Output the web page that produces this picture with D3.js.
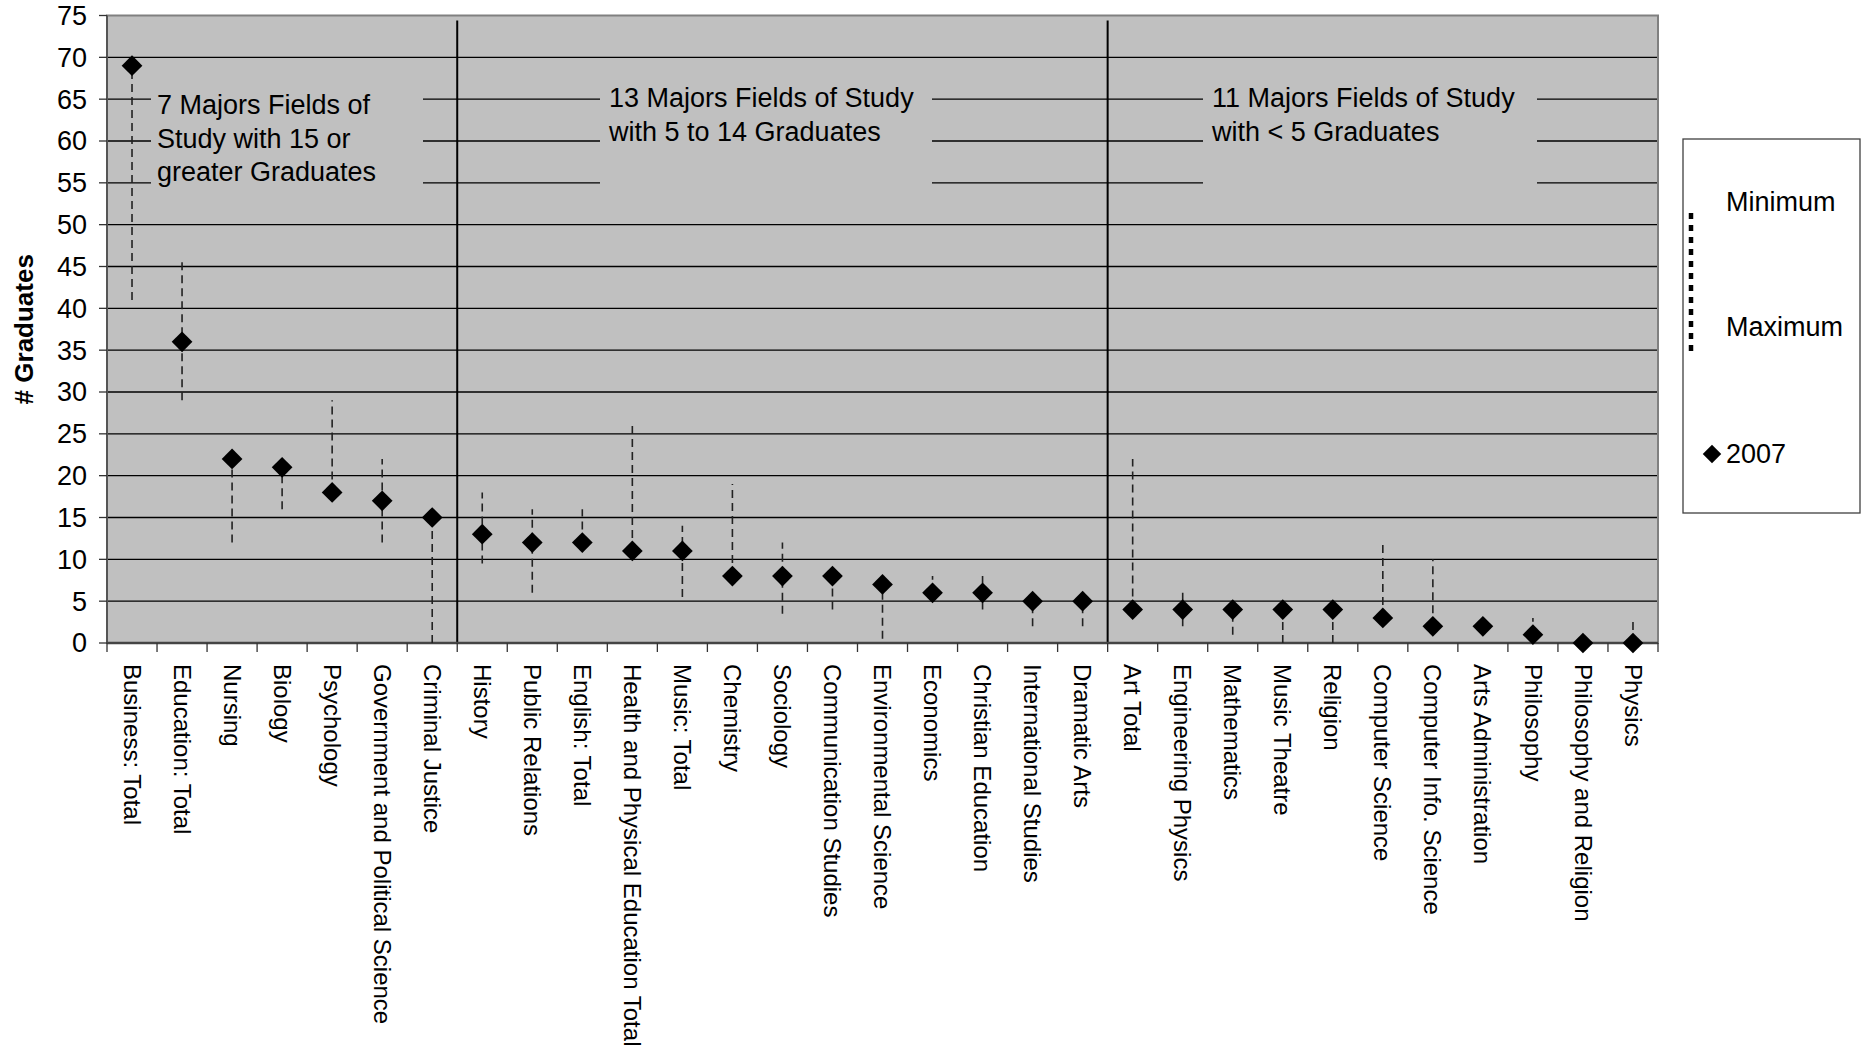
<!DOCTYPE html>
<head>
<meta charset="utf-8">
<script src="https://d3js.org/d3.v7.min.js"></script>
<style>
  body { margin: 0; background: #fff; }
  text { font-family: "Liberation Sans", Arial, sans-serif; fill: #000; }
</style>
</head>
<body>
<div id="chart"></div>
<script>

// categories (majors), sorted by 2007 graduates
var categories = [
  "Business: Total", "Education: Total", "Nursing", "Biology", "Psychology",
  "Government and Political Science", "Criminal Justice",
  "History", "Public Relations", "English: Total", "Health and Physical Education Total",
  "Music: Total", "Chemistry", "Sociology", "Communication Studies", "Environmental Science",
  "Economics", "Christian Education", "International Studies", "Dramatic Arts",
  "Art Total", "Engineering Physics", "Mathematics", "Music Theatre", "Religion",
  "Computer Science", "Computer Info. Science", "Arts Administration", "Philosophy",
  "Philosophy and Religion", "Physics"
];

// graduates in 2007
var grads2007 = [69, 36, 22, 21, 18, 17, 15, 13, 12, 12, 11, 11, 8, 8, 8, 7, 6, 6, 5, 5,
                 4, 4, 4, 4, 4, 3, 2, 2, 1, 0, 0];

// range of earlier years
var minimum = [41, 29, 12, 16, 18, 12, 0, 9.5, 6, 12, 11, 5.5, 8, 3.5, 4, 0.5, 6, 4, 2, 2,
               4, 2, 1, 0, 0, 3, 2, 2, 1, 0, 0];
var maximum = [69, 46, 22, 21, 29, 22, 15, 18, 16, 16, 26, 14, 19, 12, 8, 7, 8, 8, 5, 5,
               22, 6, 4, 4, 4, 12, 10, 2, 3, 0, 3];

// group sizes and their captions
var groupSizes = [7, 13, 11];
var groupLabels = [
  ["7 Majors Fields of", "Study with 15 or", "greater Graduates"],
  ["13 Majors Fields of Study", "with 5 to 14 Graduates"],
  ["11 Majors Fields of Study", "with < 5 Graduates"]
];

var yTicks = d3.range(0, 80, 5);

var width = 1868, height = 1055;
var plotLeft = 107, plotRight = 1658, plotTop = 15.5, plotBottom = 643;

var svg = d3.select("#chart").append("svg")
    .attr("width", width)
    .attr("height", height);

var x = d3.scaleBand().domain(categories).range([plotLeft, plotRight]).padding(0);
var y = d3.scaleLinear().domain([0, 75]).range([plotBottom, plotTop]);
var bw = x.bandwidth();

// plot background
svg.append("rect")
    .attr("x", plotLeft).attr("y", plotTop)
    .attr("width", plotRight - plotLeft).attr("height", plotBottom - plotTop)
    .attr("fill", "#c0c0c0");

// horizontal gridlines
svg.append("g").selectAll("line")
    .data(yTicks.filter(d => d > 0 && d < 75))
    .enter().append("line")
    .attr("x1", plotLeft).attr("x2", plotRight)
    .attr("y1", d => y(d)).attr("y2", d => y(d))
    .attr("stroke", "#000").attr("stroke-width", 1.3);

// caption boxes (hide gridlines behind the text)
var boxes = [
  {x0: 151, x1: 423, tx: 157, ty: 114},
  {x0: 600, x1: 932, tx: 609, ty: 107},
  {x0: 1203, x1: 1537, tx: 1212, ty: 107}
];
boxes.forEach(function(b, i) {
  svg.append("rect")
      .attr("x", b.x0).attr("y", y(67.4))
      .attr("width", b.x1 - b.x0).attr("height", y(52.9) - y(67.4))
      .attr("fill", "#c0c0c0");
  svg.append("text")
      .attr("x", b.tx).attr("y", b.ty)
      .attr("font-size", 27)
      .selectAll("tspan")
      .data(groupLabels[i])
      .enter().append("tspan")
      .attr("x", b.tx)
      .attr("dy", (d, j) => j == 0 ? 0 : 33.5)
      .text(d => d);
});

// group separators
var cum = 0;
groupSizes.slice(0, -1).forEach(function(n) {
  cum += n;
  svg.append("line")
      .attr("x1", x(categories[cum])).attr("x2", x(categories[cum]))
      .attr("y1", y(74.4)).attr("y2", plotBottom)
      .attr("stroke", "#000").attr("stroke-width", 2);
});

// plot border
svg.append("rect")
    .attr("x", plotLeft).attr("y", plotTop)
    .attr("width", plotRight - plotLeft).attr("height", plotBottom - plotTop)
    .attr("fill", "none")
    .attr("stroke", "#808080").attr("stroke-width", 2);

// y axis
svg.append("line")
    .attr("x1", plotLeft).attr("x2", plotLeft).attr("y1", plotTop).attr("y2", plotBottom)
    .attr("stroke", "#555").attr("stroke-width", 2);
var yAxis = svg.append("g");
yAxis.selectAll("line")
    .data(yTicks).enter().append("line")
    .attr("x1", plotLeft - 8).attr("x2", plotLeft)
    .attr("y1", d => y(d)).attr("y2", d => y(d))
    .attr("stroke", "#333").attr("stroke-width", 1.3);
yAxis.selectAll("text")
    .data(yTicks).enter().append("text")
    .attr("x", 87).attr("y", d => y(d))
    .attr("dy", "0.35em")
    .attr("text-anchor", "end")
    .attr("font-size", 27)
    .text(d => d);

svg.append("text")
    .attr("transform", "translate(33," + ((plotTop + plotBottom) / 2) + ") rotate(-90)")
    .attr("text-anchor", "middle")
    .attr("font-size", 26)
    .attr("font-weight", "bold")
    .text("# Graduates");

// x axis
svg.append("line")
    .attr("x1", plotLeft).attr("x2", plotRight).attr("y1", plotBottom).attr("y2", plotBottom)
    .attr("stroke", "#444").attr("stroke-width", 2.5);
svg.append("g").selectAll("line")
    .data(categories.concat(["end"]))
    .enter().append("line")
    .attr("x1", d => d == "end" ? plotRight : x(d))
    .attr("x2", d => d == "end" ? plotRight : x(d))
    .attr("y1", plotBottom).attr("y2", plotBottom + 9)
    .attr("stroke", "#333").attr("stroke-width", 1.3);
svg.append("g").selectAll("text")
    .data(categories).enter().append("text")
    .attr("transform", d => "translate(" + (x(d) + bw / 2) + "," + (plotBottom + 21) + ") rotate(90)")
    .attr("dy", "0.35em")
    .attr("font-size", 24)
    .text(d => d);

// min-max range lines
svg.append("g").selectAll("line")
    .data(categories).enter().append("line")
    .attr("x1", d => x(d) + bw / 2).attr("x2", d => x(d) + bw / 2)
    .attr("y1", (d, i) => y(minimum[i])).attr("y2", (d, i) => y(maximum[i]))
    .attr("stroke", "#222").attr("stroke-width", 1.6)
    .attr("stroke-dasharray", "8,5");

// 2007 diamonds
var diamond = d3.symbol().type(d3.symbolSquare).size(215);
svg.append("g").selectAll("path")
    .data(categories).enter().append("path")
    .attr("d", diamond)
    .attr("transform", (d, i) => "translate(" + (x(d) + bw / 2) + "," + y(grads2007[i]) + ") rotate(45)")
    .attr("fill", "#000");

// legend
var legend = svg.append("g");
legend.append("rect")
    .attr("x", 1683).attr("y", 139)
    .attr("width", 177).attr("height", 374)
    .attr("fill", "#fff")
    .attr("stroke", "#404040").attr("stroke-width", 1.3);
legend.append("line")
    .attr("x1", 1691).attr("x2", 1691)
    .attr("y1", 213).attr("y2", 354)
    .attr("stroke", "#000").attr("stroke-width", 4.5)
    .attr("stroke-dasharray", "6,6");
legend.append("text").attr("x", 1726).attr("y", 211).attr("font-size", 27).text("Minimum");
legend.append("text").attr("x", 1726).attr("y", 336).attr("font-size", 27).text("Maximum");
legend.append("path")
    .attr("d", d3.symbol().type(d3.symbolSquare).size(170))
    .attr("transform", "translate(1712,454) rotate(45)")
    .attr("fill", "#000");
legend.append("text").attr("x", 1726).attr("y", 463).attr("font-size", 27).text("2007");

</script>
</body>
